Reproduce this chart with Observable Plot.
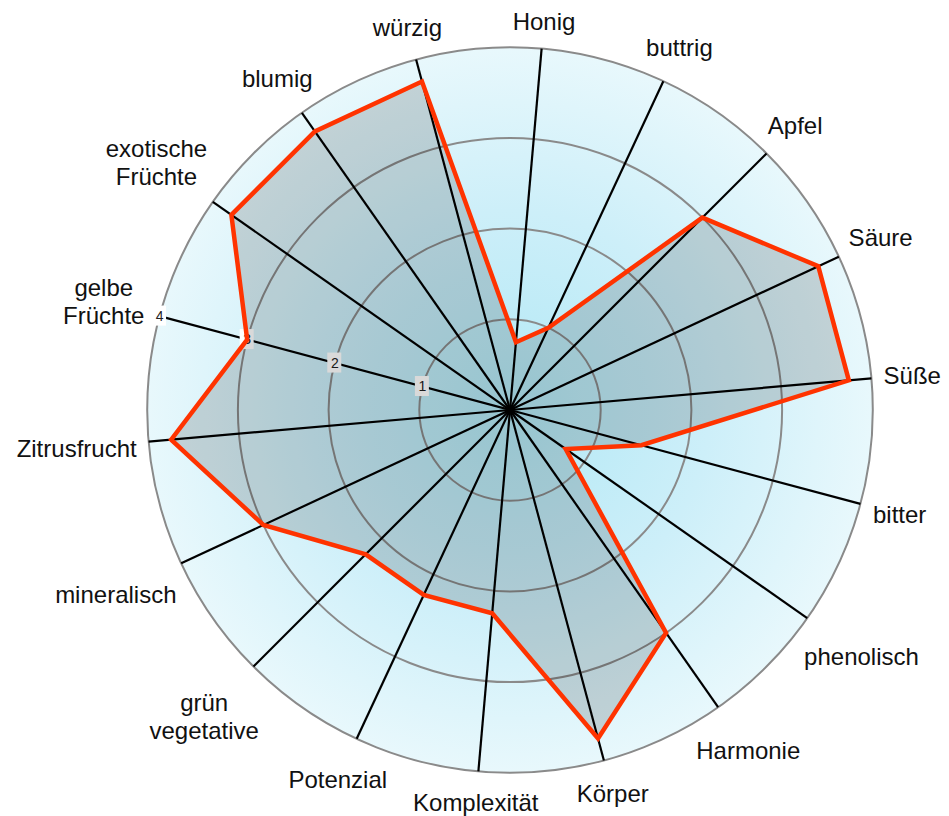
<!DOCTYPE html>
<html>
<head>
<meta charset="utf-8">
<script src="https://cdn.jsdelivr.net/npm/d3@7"></script>
<script src="https://cdn.jsdelivr.net/npm/@observablehq/plot@0.6"></script>
<style>
  html, body { margin: 0; padding: 0; background: #fff; }
</style>
</head>
<body>
<div id="chart"></div>
<script>
// ---- data ----
const categories = ["Honig", "buttrig", "Apfel", "Säure", "Süße", "bitter", "phenolisch", "Harmonie", "Körper", "Komplexität", "Potenzial", "grün\nvegetative", "mineralisch", "Zitrusfrucht", "gelbe\nFrüchte", "exotische\nFrüchte", "blumig", "würzig"];
const values = [0.75, 1, 3, 3.75, 3.75, 1.5, 0.75, 3, 3.75, 2.25, 2.25, 2.25, 3, 3.75, 3, 3.75, 3.75, 3.75];
const ringTicks = [1, 2, 3, 4];
const tickLabels = ["1", "2", "3", "4"];
const maxValue = 4;
const tickAxisIndex = 14; // ticks drawn along "gelbe Früchte"

// ---- layout ----
const W = 949, H = 816, CX = 509.5, CY = 409.5, UNIT = 90.7;
const FONT = "Liberation Sans, Arial, Helvetica, sans-serif";
const LABEL_SIZE = 24, LINE_H = 1.17, LABEL_BASE = 374;
const startAngle = 5, step = 360 / categories.length;
const ang = i => (startAngle + i * step) * Math.PI / 180;

const ctx = document.createElement("canvas").getContext("2d");
ctx.font = `${LABEL_SIZE}px ${FONT}`;

const pts = categories.map((c, i) => ({
  c, v: values[i],
  x: values[i] * Math.sin(ang(i)),
  y: values[i] * Math.cos(ang(i))
}));

const spokes = categories.map((c, i) => ({
  x2: maxValue * Math.sin(ang(i)),
  y2: maxValue * Math.cos(ang(i))
}));

const labelPts = categories.map((c, i) => {
  const lines = c.split("\n");
  const w = Math.max(...lines.map(l => ctx.measureText(l).width));
  const hw = w / 2, hh = lines.length * LABEL_SIZE * LINE_H / 2;
  const s = Math.sin(ang(i)), co = Math.cos(ang(i));
  const r = (LABEL_BASE + hw * Math.abs(s) + hh * Math.abs(co)) / UNIT;
  return { text: c, x: r * s, y: r * co };
});

const tickPts = ringTicks.map((v, k) => ({
  text: tickLabels[k],
  x: v * Math.sin(ang(tickAxisIndex)),
  y: v * Math.cos(ang(tickAxisIndex))
}));

const svg = Plot.plot({
  width: W,
  height: H,
  margin: 0,
  style: { fontFamily: FONT, background: "#fff", overflow: "visible" },
  x: { domain: [-CX / UNIT, (W - CX) / UNIT], axis: null },
  y: { domain: [-(H - CY) / UNIT, CY / UNIT], axis: null },
  r: { type: "identity" },
  marks: [
    // background disc
    Plot.dot([maxValue], { x: () => 0, y: () => 0, r: d => d * UNIT, fill: "url(#bgGrad)", stroke: "none" }),
    // rings
    Plot.dot(ringTicks, { x: () => 0, y: () => 0, r: d => d * UNIT, fill: "none", stroke: "#8a8a8a", strokeWidth: 2 }),
    // spokes
    Plot.link(spokes, { x1: () => 0, y1: () => 0, x2: "x2", y2: "y2", stroke: "#000", strokeWidth: 2.2 }),
    // tick labels
    Plot.rect(tickPts, {
      x1: d => d.x - 7 / UNIT, x2: d => d.x + 7 / UNIT,
      y1: d => d.y - 10 / UNIT, y2: d => d.y + 10 / UNIT,
      fill: "#fff"
    }),
    Plot.text(tickPts, { x: "x", y: "y", text: "text", fontSize: 14, fill: "#222" }),
    // data polygon
    Plot.line(pts, { x: "x", y: "y", curve: "linear-closed", fill: "#000", fillOpacity: 0.15, stroke: "none" }),
    Plot.line(pts, { x: "x", y: "y", curve: "linear-closed", fill: "none", stroke: "#ff3300", strokeWidth: 4.5, strokeLinejoin: "miter", strokeMiterlimit: 6 }),
    // category labels
    Plot.text(labelPts, {
      x: "x", y: "y", text: "text",
      fontSize: LABEL_SIZE, lineHeight: LINE_H,
      textAnchor: "middle", lineAnchor: "middle", fill: "#111"
    })
  ]
});

d3.select(svg).insert("defs", ":first-child").html(
  `<radialGradient id="bgGrad" gradientUnits="userSpaceOnUse" cx="${CX}" cy="${CY}" r="${maxValue * UNIT}">
     <stop offset="0" stop-color="#b2e8f5"/>
     <stop offset="0.55" stop-color="#cdeff9"/>
     <stop offset="1" stop-color="#e8f8fc"/>
   </radialGradient>`
);

document.getElementById("chart").appendChild(svg);
</script>
</body>
</html>
